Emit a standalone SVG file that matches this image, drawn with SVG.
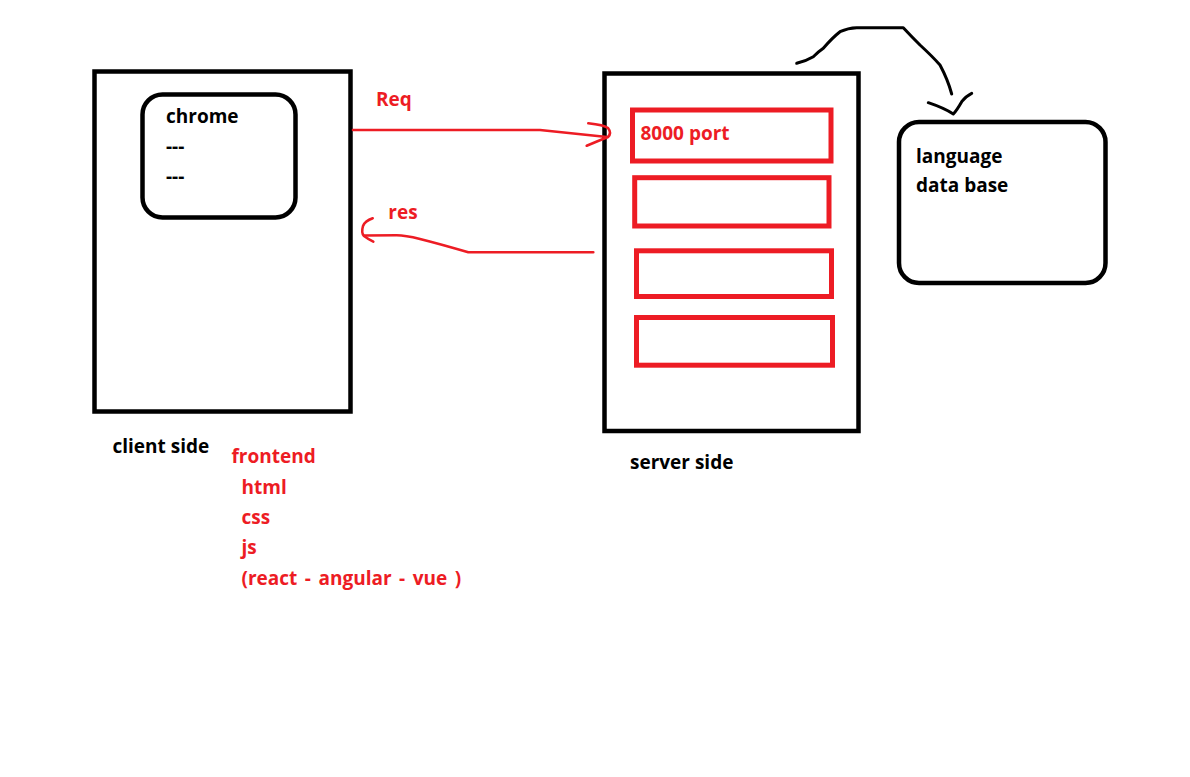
<svg xmlns="http://www.w3.org/2000/svg" width="1190" height="777" viewBox="0 0 1190 777">
<style>
text{font-family:"Open Sans","Noto Sans","Liberation Sans",sans-serif;font-weight:bold;font-size:19px}
.k{fill:#000}
.r{fill:#ED1C24}
.bb{fill:none;stroke:#000;stroke-width:4.5}
.rb{fill:none;stroke:#ED1C24;stroke-width:5}
.rl{fill:none;stroke:#ED1C24;stroke-width:2.6;stroke-linecap:round;stroke-linejoin:round}
.bl{fill:none;stroke:#000;stroke-width:3;stroke-linecap:round;stroke-linejoin:round}
</style>
<rect x="0" y="0" width="1190" height="777" fill="#fff"/>
<g id="client">
<rect class="bb" x="94.5" y="71.5" width="256" height="340"/>
</g>
<g id="chrome">
<rect class="bb" x="142.5" y="94.5" width="153" height="123" rx="20"/>
<text class="k" x="166" y="123">chrome</text>
<text class="k" x="166" y="153">---</text>
<text class="k" x="166" y="183">---</text>
</g>
<g id="client-label">
<text class="k" x="112.5" y="453">client side</text>
</g>
<g id="frontend">
<text class="r" x="231.5" y="463">frontend</text>
<text class="r" x="241.5" y="494">html</text>
<text class="r" x="241.5" y="524">css</text>
<text class="r" x="241.5" y="554">js</text>
<text class="r" x="241.5" y="585" word-spacing="2.6">(react - angular - vue )</text>
</g>
<g id="server">
<rect class="bb" x="604.5" y="73.5" width="254" height="357.5"/>
</g>
<g id="port">
<rect class="rb" x="632.5" y="110" width="198.5" height="51"/>
<text class="r" x="640.5" y="140">8000 port</text>
</g>
<g id="slot2"><rect class="rb" x="634.7" y="177.7" width="194.3" height="48.3"/></g>
<g id="slot3"><rect class="rb" x="636.5" y="250.8" width="195" height="45.7"/></g>
<g id="slot4"><rect class="rb" x="636.5" y="317.5" width="196" height="47.7"/></g>
<g id="server-label">
<text class="k" x="630" y="469">server side</text>
</g>
<g id="database">
<rect class="bb" x="899" y="122" width="206.5" height="161" rx="20"/>
<text class="k" x="916" y="163">language</text>
<text class="k" x="916" y="192">data base</text>
</g>
<g id="connectors">
<path class="rl" d="M353 130 L540 130 L607 137"/>
<path class="rl" d="M588.3 123.3 Q604 125 608 128 Q612 133 608 137 Q598 141 586.7 145.7"/>
<text class="r" x="376" y="106">Req</text>
<path class="rl" d="M593.3 252.3 L468.3 252.3 Q440 244 420 239 Q405 235.3 396.7 235.3 L365 235.5"/>
<path class="rl" d="M372.7 218.3 Q365 221 363 226 Q361 233 364 236 Q368 239 373.3 241.7"/>
<text class="r" x="388.3" y="219">res</text>
<path class="bl" d="M796.7 63.3 Q806 61 813.3 56.7 Q818 52 823.3 48.3 Q832 38 840 31.7 Q848 28 856.7 27.7 L903.3 27.7 Q912 37 920 45 Q932 56 940 65 Q948 80 951.7 94"/>
<path class="bl" d="M928.3 102.7 Q944 108 953.3 114 Q957 110 961.7 101.7 Q966 96 971.7 93.3"/>
</g>
</svg>
